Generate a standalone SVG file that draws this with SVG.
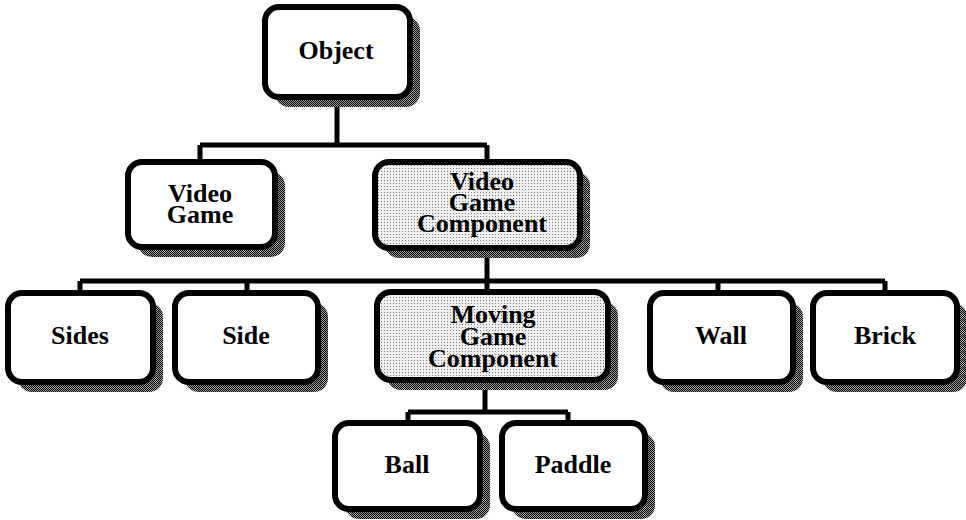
<svg xmlns="http://www.w3.org/2000/svg" width="966" height="520" viewBox="0 0 966 520">
<defs>
<pattern id="shade" width="2" height="2" patternUnits="userSpaceOnUse">
<rect width="2" height="2" fill="#9a9a9a"/>
<rect width="1" height="1" fill="#000"/>
<rect x="1" y="1" width="1" height="1" fill="#000"/>
</pattern>
<pattern id="light" width="3" height="3" patternUnits="userSpaceOnUse">
<rect width="3" height="3" fill="#efefef"/>
<rect width="1" height="1" fill="#7a7a7a"/>
</pattern>
<style>
.sh{fill:url(#shade);}
.bx{fill:#fff;stroke:#000;stroke-width:6;}
.gr{fill:url(#light);stroke:#000;stroke-width:6;}
.t{font-family:"Liberation Serif","Times New Roman",serif;font-weight:bold;font-size:26px;text-anchor:middle;fill:#000;}
.c{fill:none;stroke:#000;stroke-width:5;}
</style>
</defs>
<rect width="966" height="520" fill="#fff"/>
<g id="connectors">
<path class="c" d="M337 97V145M200 145H487M200 145V162M487 145V162"/>
<path class="c" d="M487 248V281M80 281H885M80 281V293M247 281V293M487 281V292M718 281V293M885 281V293"/>
<path class="c" d="M485 380V412M408 412H568M408 412V423M568 412V423"/>
</g>
<g id="object">
<rect class="sh" x="275" y="17" width="145" height="90" rx="14"/>
<rect class="bx" x="265" y="7" width="145" height="90" rx="14"/>
<text class="t" x="336" y="59">Object</text>
</g>
<g id="videogame">
<rect class="sh" x="138" y="172" width="147" height="85" rx="14"/>
<rect class="bx" x="128" y="162" width="147" height="85" rx="14"/>
<text class="t" x="200" y="202">Video</text>
<text class="t" x="200" y="223">Game</text>
</g>
<g id="vgc">
<rect class="sh" x="385" y="172" width="205" height="86" rx="14"/>
<rect class="gr" x="375" y="162" width="205" height="86" rx="14"/>
<text class="t" x="482" y="190">Video</text>
<text class="t" x="482" y="211">Game</text>
<text class="t" x="482" y="232">Component</text>
</g>
<g id="sides">
<rect class="sh" x="18" y="303" width="145" height="89" rx="14"/>
<rect class="bx" x="8" y="293" width="145" height="89" rx="14"/>
<text class="t" x="80" y="344">Sides</text>
</g>
<g id="side">
<rect class="sh" x="185" y="303" width="143" height="89" rx="14"/>
<rect class="bx" x="175" y="293" width="143" height="89" rx="14"/>
<text class="t" x="246" y="344">Side</text>
</g>
<g id="mgc">
<rect class="sh" x="387" y="302" width="231" height="88" rx="14"/>
<rect class="gr" x="377" y="292" width="231" height="88" rx="14"/>
<text class="t" x="493" y="323">Moving</text>
<text class="t" x="493" y="345">Game</text>
<text class="t" x="493" y="367">Component</text>
</g>
<g id="wall">
<rect class="sh" x="660" y="303" width="143" height="89" rx="14"/>
<rect class="bx" x="650" y="293" width="143" height="89" rx="14"/>
<text class="t" x="721" y="344">Wall</text>
</g>
<g id="brick">
<rect class="sh" x="823" y="303" width="144" height="89" rx="14"/>
<rect class="bx" x="813" y="293" width="144" height="89" rx="14"/>
<text class="t" x="885" y="344">Brick</text>
</g>
<g id="ball">
<rect class="sh" x="345" y="433" width="145" height="86" rx="14"/>
<rect class="bx" x="335" y="423" width="145" height="86" rx="14"/>
<text class="t" x="407" y="473">Ball</text>
</g>
<g id="paddle">
<rect class="sh" x="512" y="433" width="143" height="86" rx="14"/>
<rect class="bx" x="502" y="423" width="143" height="86" rx="14"/>
<text class="t" x="573" y="473">Paddle</text>
</g>
</svg>
